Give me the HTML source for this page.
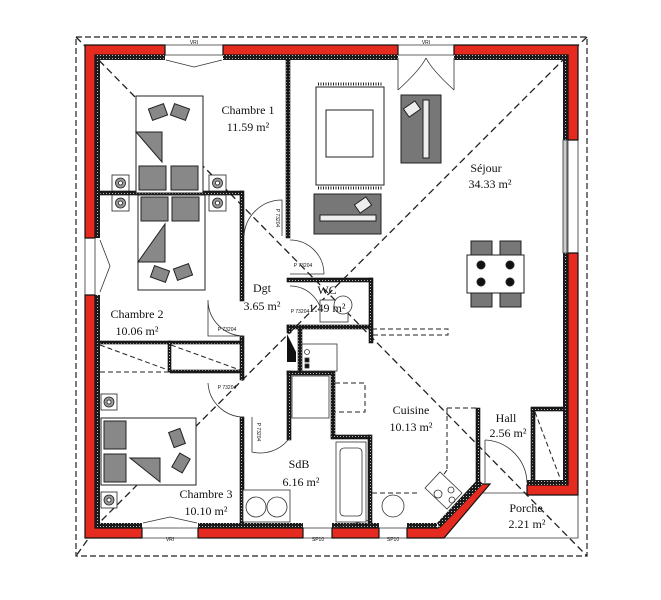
<!DOCTYPE html>
<html><head><meta charset="utf-8"><style>
html,body{margin:0;padding:0;background:#fff;}
svg{display:block}
text{font-family:"Liberation Serif",serif;font-size:12px;fill:#111;text-anchor:middle}
.s text{font-family:"Liberation Sans",sans-serif;font-size:5px}
</style></head><body>
<svg width="661" height="600" viewBox="0 0 661 600" xmlns="http://www.w3.org/2000/svg">
<defs>
<pattern id="h" width="3" height="3" patternUnits="userSpaceOnUse"><rect width="3" height="3" fill="#1a1a1a"/><rect x="1" y="1" width="1" height="1" fill="#bbb"/></pattern>
</defs>
<rect x="76" y="37" width="511" height="519" fill="none" stroke="#222" stroke-width="1.2" stroke-dasharray="6,3"/>
<g stroke="#222" stroke-width="1.3" stroke-dasharray="7,4" fill="none">
<line x1="76" y1="37" x2="587" y2="556"/>
<line x1="566" y1="57" x2="100" y2="522"/>
<line x1="100" y1="522" x2="76" y2="556"/>
<line x1="566" y1="57" x2="587" y2="37"/>
</g>
<g fill="#e52a1f" stroke="#111" stroke-width="1.2">
<path d="M85 45 H165 V55 H95 V238 H85 Z"/>
<rect x="223" y="45" width="175" height="10"/>
<path d="M454 45 H578 V140 H568 V55 H454 Z"/>
<path d="M568 253 H578 V495 H527 V485 H568 Z"/>
<path d="M85 295 H95 V528 H142 V538 H85 Z"/>
<rect x="198" y="528" width="105" height="10"/>
<rect x="332" y="528" width="47" height="10"/>
<path d="M407 528 H438 L480 484 H490 L444 538 H407 Z"/>
</g>
<g fill="url(#h)">
<rect x="95" y="55" width="70" height="5"/>
<rect x="223" y="55" width="175" height="5"/>
<rect x="454" y="55" width="114" height="5"/>
<rect x="95" y="55" width="5" height="183"/>
<rect x="563" y="55" width="5" height="85"/>
<rect x="563" y="253" width="5" height="232"/>
<rect x="527" y="480" width="41" height="5"/>
<rect x="95" y="295" width="5" height="233"/>
<rect x="95" y="523" width="47" height="5"/>
<rect x="198" y="523" width="105" height="5"/>
<rect x="332" y="523" width="47" height="5"/>
<rect x="407" y="523" width="30" height="5"/>
<polygon points="437,523 478,479 483,484 440,528"/>
</g>
<g stroke="#333" stroke-width="0.8" fill="none">
<line x1="165" y1="45" x2="223" y2="45"/><line x1="165" y1="55" x2="223" y2="55"/>
<line x1="398" y1="45" x2="454" y2="45"/><line x1="398" y1="55" x2="454" y2="55"/>
<line x1="568" y1="140" x2="568" y2="253"/><line x1="578" y1="140" x2="578" y2="253"/>
<line x1="85" y1="238" x2="85" y2="295"/><line x1="95" y1="238" x2="95" y2="295"/>
<line x1="142" y1="528" x2="198" y2="528"/><line x1="142" y1="538" x2="198" y2="538"/>
<line x1="303" y1="528" x2="332" y2="528"/><line x1="303" y1="538" x2="332" y2="538"/>
<line x1="379" y1="528" x2="407" y2="528"/><line x1="379" y1="538" x2="407" y2="538"/>
<path d="M166 60 L194 67 L222 60"/>
<path d="M398 58 V90 M454 58 V90 M398 90 Q420 70 426 58 M454 90 Q432 70 426 58"/>
<path d="M100 240 L110 266 L100 292"/>
<path d="M143 523 L170 517 L197 523"/>
<rect x="563" y="140" width="4" height="113" fill="#ccc"/>
<path d="M444 538 H578 V495 M483 493 H527"/>
</g>
<g class="s">
<text x="194" y="44">VRI</text><text x="426" y="44">VRI</text>
<text x="170" y="541">VRI</text><text x="318" y="541">SP10</text><text x="393" y="541">SP10</text>
</g>
<g fill="url(#h)" stroke="#111" stroke-width="0.6">
<rect x="286" y="60" width="4" height="178"/>
<rect x="100" y="191" width="143" height="4"/>
<rect x="240" y="191" width="4" height="110"/>
<rect x="240" y="336" width="4" height="44"/>
<rect x="240" y="417" width="4" height="106"/>
<rect x="100" y="341" width="142" height="3"/>
<rect x="168" y="341" width="3" height="31"/>
<rect x="170" y="370" width="72" height="3"/>
<rect x="287" y="278" width="85" height="4"/>
<rect x="369" y="278" width="4" height="65"/>
<rect x="287" y="325" width="85" height="4"/>
<rect x="287" y="325" width="4" height="8"/>
<rect x="298" y="329" width="4" height="42"/>
<rect x="287" y="371" width="46" height="4"/>
<rect x="287" y="371" width="4" height="69"/>
<rect x="331" y="371" width="4" height="66"/>
<rect x="331" y="435" width="39" height="4"/>
<rect x="368" y="435" width="4" height="88"/>
<rect x="476" y="408" width="4" height="75"/>
<rect x="531" y="408" width="4" height="77"/>
<rect x="531" y="407" width="32" height="4"/>
</g>
<g stroke="#222" stroke-width="1" stroke-dasharray="5,3" fill="none">
<line x1="100" y1="372" x2="170" y2="372"/>
<path d="M100 345 L168 370 M171 345 L240 370"/>
<rect x="372" y="329" width="76" height="6"/>
<path d="M335 383 H365 V412 H335"/>
<path d="M447 408 H476 M447 408 V470 M372 493 H420 M447 470 L430 493"/>
<path d="M533 412 V480 M535 412 L560 478"/>
</g>
<g stroke="#333" stroke-width="0.8" fill="none">
<path d="M244 236 A38 38 0 0 1 282 200 V236"/>
<path d="M290 240 A34 34 0 0 1 324 274 H290"/>
<path d="M290 286 A32 32 0 0 1 322 318"/>
<path d="M244 336 A36 36 0 0 1 208 300 V336 H244" />
<path d="M208 383 A36 36 0 0 0 244 417"/>
<path d="M252 417 V452 A36 36 0 0 0 288 440"/>
<path d="M485 440 A44 44 0 0 1 527 483 M485 440 V483"/>
<path d="M333 528 L370 520"/>
</g>
<polygon points="287,334 296,352 296,362 287,362" fill="#111"/>
<g class="s">
<text x="276" y="218" transform="rotate(90 276 218)">P 73204</text>
<text x="303" y="267">P 73204</text>
<text x="300" y="313">P 73204</text>
<text x="227" y="331">P 73204</text>
<text x="227" y="389">P 73204</text>
<text x="257" y="432" transform="rotate(90 257 432)">P 73204</text>
</g>
<g stroke="#333" stroke-width="0.8">
<rect x="302" y="344" width="35" height="27" fill="#fff"/>
<circle cx="307" cy="352" r="2.5" fill="#fff"/>
<rect x="305" y="358" width="4" height="4" fill="#111"/><rect x="305" y="364" width="4" height="4" fill="#111"/>
<rect x="292" y="376" width="37" height="42" fill="#fff"/>
<rect x="336" y="442" width="30" height="80" fill="#fff"/>
<rect x="340" y="448" width="22" height="68" rx="4" fill="#fff"/>
<rect x="243" y="490" width="47" height="32" fill="#fff"/>
<circle cx="256" cy="507" r="10" fill="#fff"/><circle cx="277" cy="507" r="10" fill="#fff"/>
<circle cx="393" cy="506" r="11" fill="#fff"/>
<polygon points="425,488 440,472 462,493 447,509" fill="#fff"/>
<circle cx="438" cy="494" r="4" fill="none"/><circle cx="451" cy="490" r="3" fill="none"/><circle cx="452" cy="500" r="3" fill="none"/>
<rect x="320" y="300" width="28" height="22" fill="#fff"/><circle cx="343" cy="305" r="9" fill="#fff"/>
</g>
<g stroke="#222" stroke-width="1">
<rect x="136" y="96" width="67" height="97" fill="#fff"/>
<polygon points="136,132 162,132 162,162" fill="#888"/>
<rect x="139" y="166" width="27" height="24" fill="#888"/><rect x="171" y="166" width="27" height="24" fill="#888"/>
<rect x="150" y="106" width="16" height="12" fill="#888" transform="rotate(-20 158 112)"/>
<rect x="172" y="106" width="16" height="12" fill="#888" transform="rotate(20 180 112)"/>
<rect x="138" y="195" width="67" height="95" fill="#fff"/>
<polygon points="138,262 165,224 165,262" fill="#888"/>
<rect x="141" y="197" width="27" height="24" fill="#888"/><rect x="172" y="197" width="27" height="24" fill="#888"/>
<rect x="152" y="268" width="16" height="12" fill="#888" transform="rotate(20 160 274)"/>
<rect x="175" y="266" width="16" height="12" fill="#888" transform="rotate(-20 183 272)"/>
<rect x="101" y="418" width="95" height="67" fill="#fff"/>
<polygon points="130,458 160,458 160,482" fill="#888"/>
<rect x="104" y="421" width="22" height="28" fill="#888"/><rect x="104" y="454" width="22" height="28" fill="#888"/>
<rect x="171" y="430" width="12" height="16" fill="#888" transform="rotate(-20 177 438)"/>
<rect x="175" y="455" width="12" height="16" fill="#888" transform="rotate(30 181 463)"/>
</g>
<g stroke="#222" stroke-width="0.8" fill="#fff">
<rect x="112" y="175" width="17" height="16"/><circle cx="120.5" cy="183" r="5" fill="#999"/><circle cx="120.5" cy="183" r="2" fill="#fff"/>
<rect x="209" y="175" width="17" height="16"/><circle cx="217.5" cy="183" r="5" fill="#999"/><circle cx="217.5" cy="183" r="2" fill="#fff"/>
<rect x="112" y="195" width="17" height="16"/><circle cx="120.5" cy="203" r="5" fill="#999"/><circle cx="120.5" cy="203" r="2" fill="#fff"/>
<rect x="209" y="195" width="17" height="16"/><circle cx="217.5" cy="203" r="5" fill="#999"/><circle cx="217.5" cy="203" r="2" fill="#fff"/>
<rect x="101" y="394" width="16" height="16"/><circle cx="109" cy="402" r="5" fill="#999"/><circle cx="109" cy="402" r="2" fill="#fff"/>
<rect x="101" y="492" width="16" height="16"/><circle cx="109" cy="500" r="5" fill="#999"/><circle cx="109" cy="500" r="2" fill="#fff"/>
</g>
<g stroke="#222" stroke-width="1">
<rect x="316" y="87" width="68" height="98" fill="#fff"/>
<rect x="326" y="110" width="47" height="47" fill="#fff"/>
<line x1="318" y1="84" x2="382" y2="84" stroke-dasharray="1,1.5" stroke-width="3"/>
<line x1="318" y1="188" x2="382" y2="188" stroke-dasharray="1,1.5" stroke-width="3"/>
<rect x="401" y="95" width="40" height="68" fill="#777"/>
<rect x="423" y="100" width="6" height="58" fill="#eee"/>
<rect x="405" y="104" width="14" height="10" fill="#eee" transform="rotate(-35 412 109)"/>
<rect x="314" y="194" width="67" height="40" fill="#777"/>
<rect x="320" y="215" width="56" height="6" fill="#eee"/>
<rect x="356" y="200" width="14" height="10" fill="#eee" transform="rotate(-35 363 205)"/>
<rect x="471" y="241" width="21" height="14" fill="#777"/><rect x="500" y="241" width="21" height="14" fill="#777"/>
<rect x="471" y="293" width="21" height="14" fill="#777"/><rect x="500" y="293" width="21" height="14" fill="#777"/>
<rect x="467" y="255" width="57" height="38" fill="#fff"/>
<circle cx="481" cy="265" r="4" fill="#111"/><circle cx="481" cy="282" r="4" fill="#111"/>
<circle cx="510" cy="265" r="4" fill="#111"/><circle cx="510" cy="282" r="4" fill="#111"/>
</g>
<text x="248" y="114">Chambre 1</text><text x="248" y="131">11.59 m²</text>
<text x="486" y="172">Séjour</text><text x="490" y="188">34.33 m²</text>
<text x="262" y="292">Dgt</text><text x="262" y="310">3.65 m²</text>
<text x="327" y="294">WC</text><text x="327" y="312">1.49 m²</text>
<text x="137" y="318">Chambre 2</text><text x="137" y="335">10.06 m²</text>
<text x="411" y="414">Cuisine</text><text x="411" y="431">10.13 m²</text>
<text x="506" y="422">Hall</text><text x="508" y="437">2.56 m²</text>
<text x="299" y="468">SdB</text><text x="301" y="486">6.16 m²</text>
<text x="206" y="498">Chambre 3</text><text x="206" y="515">10.10 m²</text>
<text x="526" y="512">Porche</text><text x="527" y="528">2.21 m²</text>
</svg>
</body></html>
